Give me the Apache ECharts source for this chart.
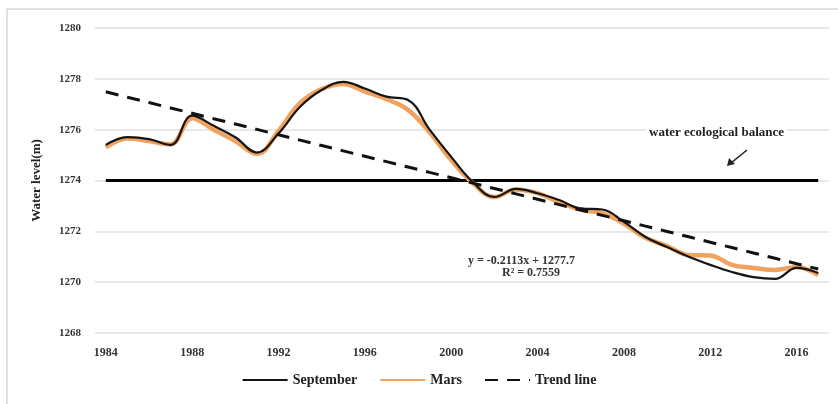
<!DOCTYPE html>
<html>
<head>
<meta charset="utf-8">
<script src="https://cdn.jsdelivr.net/npm/echarts@6/dist/echarts.min.js"></script>
<style>
  html, body { margin: 0; padding: 0; background: #fff; }
  #chart { width: 838px; height: 404px; }
</style>
</head>
<body>
<div id="chart"></div>
<script>
// Years on the category axis (one label every 4 years)
const years = [];
for (let y = 1984; y <= 2017; y++) years.push(String(y));

// Water level (m) measured in September
const september = [
  1275.40, 1275.71, 1275.63, 1275.40, 1276.55, 1276.15, 1275.70, 1275.10,
  1275.85, 1276.90, 1277.56, 1277.88, 1277.62, 1277.30, 1277.17, 1276.00,
  1274.93, 1273.94, 1273.35, 1273.67, 1273.50, 1273.23, 1272.90, 1272.86,
  1272.37, 1271.78, 1271.38, 1271.00, 1270.68, 1270.40, 1270.20, 1270.13,
  1270.56, 1270.36
];

// Water level (m) measured in March
const mars = [
  1275.30, 1275.65, 1275.55, 1275.42, 1276.45, 1276.00, 1275.55, 1275.05,
  1275.95, 1277.05, 1277.60, 1277.80, 1277.50, 1277.20, 1276.78, 1275.90,
  1274.80, 1273.90, 1273.35, 1273.65, 1273.50, 1273.15, 1272.85, 1272.72,
  1272.30, 1271.75, 1271.42, 1271.07, 1271.05, 1270.68, 1270.56, 1270.48,
  1270.60, 1270.28
];

// Linear trend as stated on the chart: y = -0.2113x + 1277.7 (x = 1, 2, ...)
const trendSlope = -0.2113;
const trendIntercept = 1277.7;
const trend = years.map((_, i) => +(trendSlope * (i + 1) + trendIntercept).toFixed(3));

// Water ecological balance level (m)
const balanceLevel = 1274;
const balance = years.map(() => balanceLevel);

const serif = '"Liberation Serif", "DejaVu Serif", serif';

const chart = echarts.init(document.getElementById('chart'));
chart.setOption({
  backgroundColor: '#ffffff',
  animation: false,
  grid: { left: 95, right: 9, top: 28, bottom: 71 },
  legend: {
    data: ['September', 'Mars', 'Trend line'],
    bottom: 12,
    left: 'center',
    itemWidth: 45,
    itemHeight: 10,
    itemGap: 22,
    itemStyle: { opacity: 0 },
    textStyle: { fontFamily: serif, fontWeight: 'bold', fontSize: 14, color: '#222' }
  },
  xAxis: {
    type: 'category',
    data: years,
    boundaryGap: true,
    axisLine: { show: false },
    axisTick: { show: false },
    axisLabel: {
      interval: 3,
      margin: 14,
      fontFamily: serif, fontWeight: 'bold', fontSize: 12, color: '#333'
    },
    splitLine: { show: false }
  },
  yAxis: {
    type: 'value',
    min: 1268,
    max: 1280,
    interval: 2,
    name: 'Water level(m)',
    nameLocation: 'middle',
    nameGap: 52,
    nameTextStyle: { fontFamily: serif, fontWeight: 'bold', fontSize: 13, color: '#222' },
    axisLine: { show: false },
    axisTick: { show: false },
    axisLabel: {
      margin: 14,
      formatter: (v) => String(v),
      fontFamily: serif, fontWeight: 'bold', fontSize: 11, color: '#333'
    },
    splitLine: { lineStyle: { color: '#e0e0e0', width: 1.5 } }
  },
  series: [
    {
      name: 'Mars',
      type: 'line',
      data: mars,
      smooth: 0.4,
      symbol: 'none',
      z: 3,
      itemStyle: { color: '#f0a25e' },
      lineStyle: { color: '#f0a25e', width: 4.5 }
    },
    {
      name: 'September',
      type: 'line',
      data: september,
      smooth: 0.4,
      symbol: 'none',
      z: 4,
      itemStyle: { color: '#151515' },
      lineStyle: { color: '#151515', width: 2.2 }
    },
    {
      name: 'Trend line',
      type: 'line',
      data: trend,
      symbol: 'none',
      z: 5,
      itemStyle: { color: '#111' },
      lineStyle: { color: '#111', width: 3, type: [13, 9] }
    },
    {
      name: 'water ecological balance',
      type: 'line',
      data: balance,
      symbol: 'none',
      z: 2,
      itemStyle: { color: '#000' },
      lineStyle: { color: '#000', width: 3 }
    }
  ],
  graphic: [
    // frame edges
    { type: 'line', shape: { x1: 7, y1: 9, x2: 838, y2: 9 }, style: { stroke: '#d6d6d6', lineWidth: 1.5 } },
    { type: 'line', shape: { x1: 7, y1: 9, x2: 7, y2: 404 }, style: { stroke: '#d6d6d6', lineWidth: 1.5 } },
    // annotation for the balance line
    {
      type: 'text', left: 646, top: 124, z: 10,
      style: {
        text: 'water ecological balance', fontFamily: serif, fontWeight: 'bold', fontSize: 13, fill: '#222',
        backgroundColor: '#ffffff', padding: [2, 3]
      }
    },
    { type: 'line', shape: { x1: 747, y1: 150, x2: 731, y2: 163 }, style: { stroke: '#222', lineWidth: 1.6 } },
    { type: 'polygon', shape: { points: [[727, 166], [729, 158], [735, 164]] }, style: { fill: '#222' } },
    // regression equation
    {
      type: 'text', left: 468, top: 255,
      style: { text: 'y = -0.2113x + 1277.7', fontFamily: serif, fontWeight: 'bold', fontSize: 12, fill: '#333' }
    },
    {
      type: 'text', left: 502, top: 267,
      style: { text: 'R\u00b2 = 0.7559', fontFamily: serif, fontWeight: 'bold', fontSize: 12, fill: '#333' }
    }
  ]
});
</script>
</body>
</html>
